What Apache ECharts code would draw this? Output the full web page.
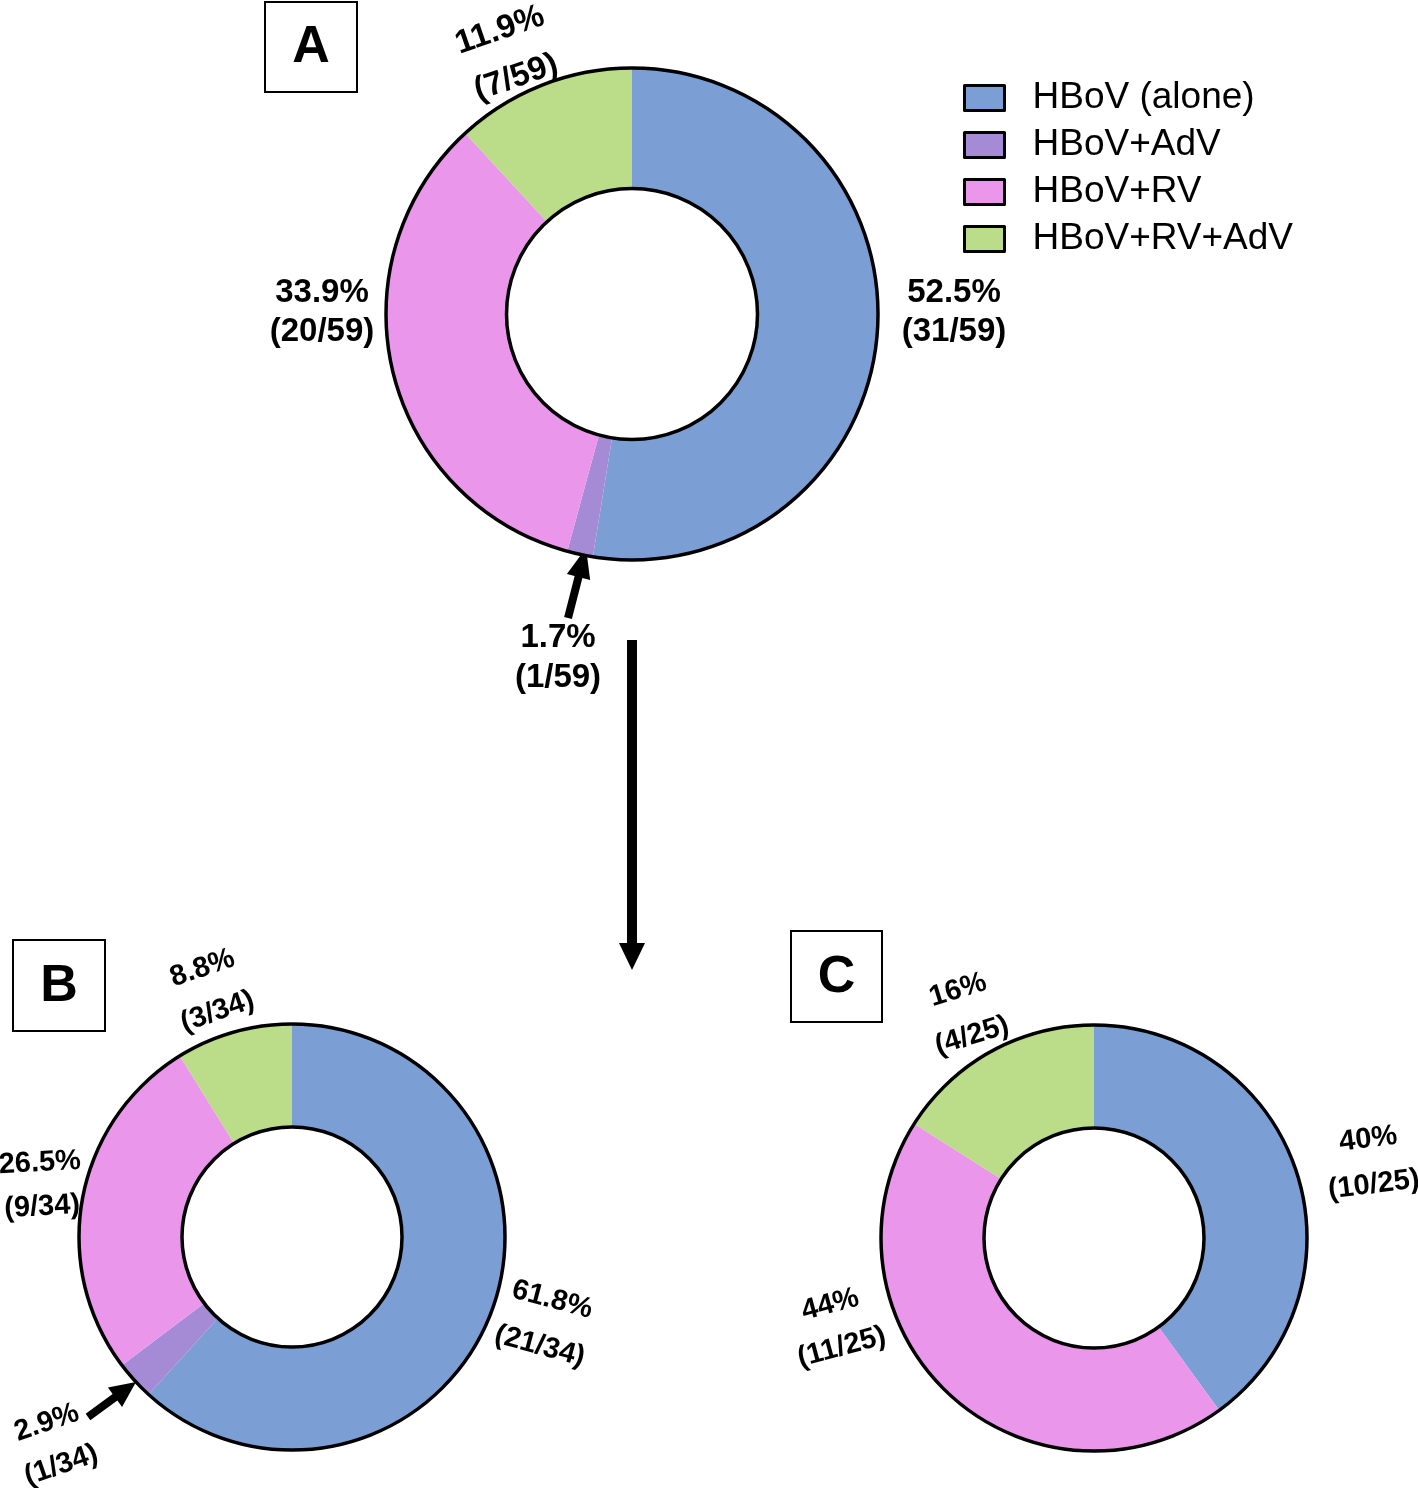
<!DOCTYPE html>
<html><head><meta charset="utf-8">
<script src="https://cdn.jsdelivr.net/npm/echarts@6/dist/echarts.min.js"></script>
<style>html,body{margin:0;padding:0;background:#fff}#c{width:1418px;height:1488px}</style>
</head><body><div id="c"></div>
<script>
// ---- data ----
const categories = ['HBoV (alone)', 'HBoV+AdV', 'HBoV+RV', 'HBoV+RV+AdV'];
const countsA = [31, 1, 20, 7];
const countsB = [21, 1, 9, 3];
const countsC = [10, 0, 11, 4];
const panelLetters = ['A', 'B', 'C'];

// ---- styles / layout ----
const colors = ['#7B9FD4', '#A58AD5', '#EA96EA', '#BBDC88'];
const FONT = '"Liberation Sans", Arial, sans-serif';
const panels = [
  { counts: countsA, center: [632, 314], rin: 125.5, rout: 246, fs: 33,
    box: [265, 2, 92, 90],
    labels: [
      { x: 954, y: 312, rot: 0, lh: 39 },
      { x: 558, y: 658, rot: 0, lh: 40 },
      { x: 322, y: 312, rot: 0, lh: 39 },
      { x: 508, y: 54, rot: 19, lh: 50 }
    ] },
  { counts: countsB, center: [292, 1237], rin: 110, rout: 213, fs: 29,
    box: [13, 940, 92, 91],
    labels: [
      { x: 546, y: 1323, rot: -15, lh: 48 },
      { x: 54, y: 1444, rot: 19, lh: 45 },
      { x: 41, y: 1185, rot: 3, lh: 44 },
      { x: 210, y: 990, rot: 19, lh: 46 }
    ] },
  { counts: countsC, center: [1094, 1238], rin: 110, rout: 213, fs: 29,
    box: [791, 931, 91, 91],
    labels: [
      { x: 1371, y: 1162, rot: 7, lh: 46 },
      null,
      { x: 836, y: 1326, rot: 15, lh: 44 },
      { x: 965, y: 1013, rot: 17, lh: 48 }
    ] }
];
const arrows = [
  { tail: [632, 640], tip: [632, 970], sw: 10, hw: 26, hl: 27 },
  { tail: [568, 618], tip: [586, 548], sw: 8, hw: 24, hl: 30 },
  { tail: [88, 1417], tip: [136, 1382], sw: 8, hw: 24, hl: 26 }
];

function fmtPct(v, t) {
  let s = (v / t * 100).toFixed(1);
  if (s.endsWith('.0')) s = s.slice(0, -2);
  return s + '%';
}
function arrowPoints(a) {
  const dx = a.tip[0] - a.tail[0], dy = a.tip[1] - a.tail[1];
  const L = Math.hypot(dx, dy), ux = dx / L, uy = dy / L, px = -uy, py = ux;
  const bx = a.tip[0] - ux * a.hl, by = a.tip[1] - uy * a.hl;
  const s = a.sw / 2, h = a.hw / 2;
  return [
    [a.tail[0] + px * s, a.tail[1] + py * s],
    [bx + px * s, by + py * s],
    [bx + px * h, by + py * h],
    a.tip,
    [bx - px * h, by - py * h],
    [bx - px * s, by - py * s],
    [a.tail[0] - px * s, a.tail[1] - py * s]
  ];
}

const series = [];
const graphics = [];
panels.forEach((p, pi) => {
  const total = p.counts.reduce((a, b) => a + b, 0);
  series.push({
    type: 'pie', radius: [p.rin, p.rout], center: p.center, startAngle: 90, clockwise: true,
    silent: true, animation: false, label: { show: false }, labelLine: { show: false },
    emphasis: { disabled: true },
    data: categories.map((c, i) => ({ name: c, value: p.counts[i], itemStyle: { color: colors[i], borderWidth: 0 } }))
  });
  series.push({
    type: 'pie', radius: [p.rin, p.rout], center: p.center, silent: true, animation: false,
    label: { show: false }, labelLine: { show: false }, emphasis: { disabled: true }, z: 3,
    data: [{ name: 'ring' + pi, value: 1, itemStyle: { color: 'rgba(0,0,0,0)', borderColor: '#000', borderWidth: 3.5 } }]
  });
  p.labels.forEach((l, i) => {
    if (!l || !p.counts[i]) return;
    graphics.push({
      type: 'text', x: l.x, y: l.y, rotation: l.rot * Math.PI / 180, silent: true,
      style: {
        text: fmtPct(p.counts[i], total) + '\n(' + p.counts[i] + '/' + total + ')',
        fill: '#000', font: 'bold ' + p.fs + 'px ' + FONT, fontSize: p.fs, fontWeight: 'bold', fontFamily: FONT,
        align: 'center', verticalAlign: 'middle', textAlign: 'center', textVerticalAlign: 'middle', lineHeight: l.lh
      }
    });
  });
  const b = p.box;
  graphics.push({ type: 'rect', shape: { x: b[0], y: b[1], width: b[2], height: b[3] }, silent: true,
    style: { fill: '#fff', stroke: '#000', lineWidth: 2 } });
  graphics.push({ type: 'text', x: b[0] + b[2] / 2, y: b[1] + b[3] / 2 + 1, silent: true,
    style: { text: panelLetters[pi], fill: '#000', font: 'bold 52px ' + FONT, fontSize: 52, fontWeight: 'bold', fontFamily: FONT,
      align: 'center', verticalAlign: 'middle', textAlign: 'center', textVerticalAlign: 'middle' } });
});
arrows.forEach(a => graphics.push({ type: 'polygon', silent: true, shape: { points: arrowPoints(a) }, style: { fill: '#000' } }));

const chart = echarts.init(document.getElementById('c'), null, { renderer: 'canvas' });
chart.setOption({
  backgroundColor: '#fff',
  animation: false,
  legend: {
    data: categories, orient: 'vertical', left: 963, top: 76, padding: 0, itemWidth: 40, itemHeight: 25, itemGap: 3,
    icon: 'rect', selectedMode: false,
    itemStyle: { borderColor: '#000', borderWidth: 3 },
    textStyle: { fontSize: 37, fontFamily: FONT, color: '#000', lineHeight: 44, padding: [0, 0, 0, 23] }
  },
  series: series,
  graphic: graphics
});
</script></body></html>
